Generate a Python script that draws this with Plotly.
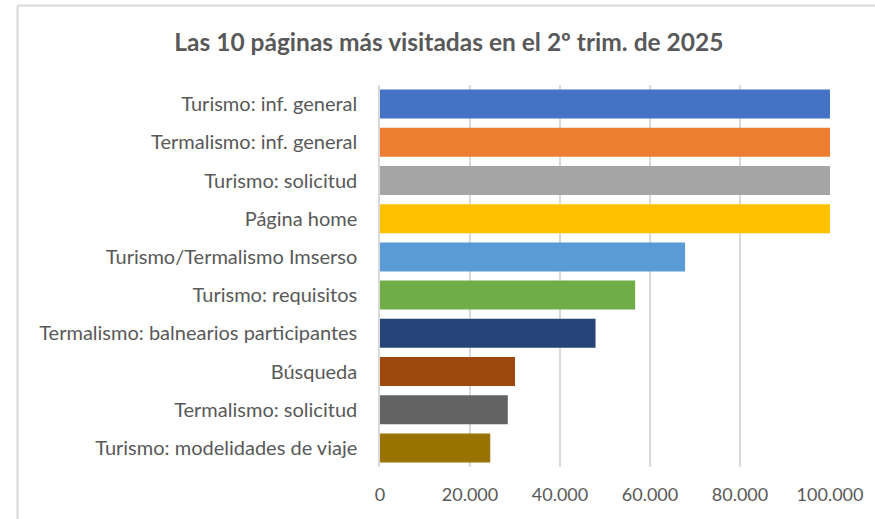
import plotly.graph_objects as go

categories = [
    "Turismo: inf. general",
    "Termalismo: inf. general",
    "Turismo: solicitud",
    "Página home",
    "Turismo/Termalismo Imserso",
    "Turismo: requisitos",
    "Termalismo: balnearios participantes",
    "Búsqueda",
    "Termalismo: solicitud",
    "Turismo: modelidades de viaje",
]
visits = [100000, 100000, 100000, 100000, 67800, 56700, 47900, 30000, 28400, 24500]
colors = ["#4472C4", "#ED7D31", "#A5A5A5", "#FFC000", "#5B9BD5",
          "#70AD47", "#264478", "#9E480E", "#636363", "#997300"]
x_ticks = [0, 20000, 40000, 60000, 80000, 100000]
title_text = "Las 10 páginas más visitadas en el 2º trim. de 2025"

FONT = "Lato"
GRAY = "#595959"

fig = go.Figure(go.Bar(
    x=visits, y=categories, orientation="h",
    marker=dict(color=colors, line=dict(width=0)),
    hoverinfo="x+y",
))

fig.update_layout(
    width=875, height=519,
    margin=dict(l=380, r=45, t=85, b=52),
    paper_bgcolor="white", plot_bgcolor="white",
    separators=",.",
    bargap=0.24,
    showlegend=False,
    font=dict(family=FONT, color=GRAY, size=20),
    title=dict(text="<b>" + title_text + "</b>", x=0.513, xanchor="center",
               y=1 - 42 / 519, yanchor="middle",
               font=dict(family=FONT, size=24.5, color=GRAY)),
    xaxis=dict(range=[0, 100000], tickvals=x_ticks, tickformat=",d",
               showgrid=True, gridcolor="#d9d9d9", gridwidth=1.5,
               zeroline=False, showline=False, ticks="",
               ticklabelstandoff=15,
               tickfont=dict(family=FONT, size=18, color=GRAY)),
    yaxis=dict(autorange="reversed", showgrid=False, zeroline=False,
               showline=True, linecolor="#d9d9d9", linewidth=1.5,
               ticks="", ticklabelstandoff=17,
               tickfont=dict(family=FONT, size=20, color=GRAY)),
    shapes=[
        dict(type="line", xref="paper", yref="paper",
             x0=(17.5 - 380) / 450, x1=(17.5 - 380) / 450,
             y0=(467 - 5.5) / 382, y1=-60 / 382,
             line=dict(color="#d9d9d9", width=2)),
        dict(type="line", xref="paper", yref="paper",
             x0=(17.5 - 380) / 450, x1=(875 - 380) / 450 + 0.1,
             y0=(467 - 5.5) / 382, y1=(467 - 5.5) / 382,
             line=dict(color="#d9d9d9", width=2)),
    ],
)

fig.write_html("out.html", config={"displayModeBar": False},
               post_script="document.body.style.margin='0';")
